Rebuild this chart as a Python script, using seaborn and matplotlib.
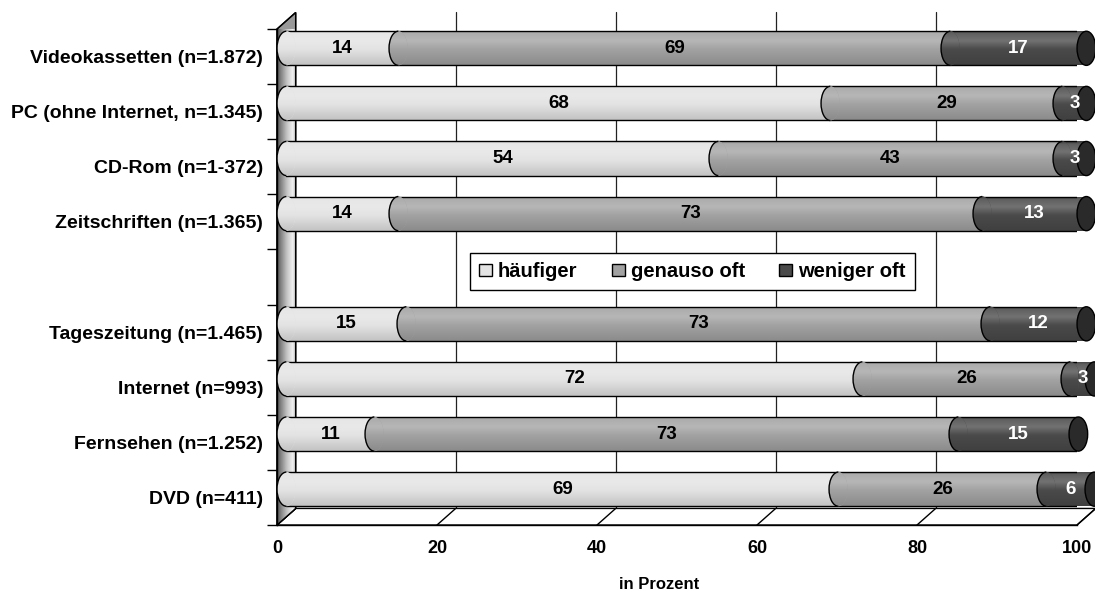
import numpy as np
import pandas as pd
import seaborn as sns
import matplotlib.pyplot as plt
import matplotlib.colors as mcolors
from matplotlib.patches import Ellipse, Polygon, Arc, Patch

# values (percent), top to bottom; "" is the empty row holding the legend
categories = ["Videokassetten (n=1.872)", "PC (ohne Internet, n=1.345)", "CD-Rom (n=1-372)",
              "Zeitschriften (n=1.365)", "", "Tageszeitung (n=1.465)", "Internet (n=993)",
              "Fernsehen (n=1.252)", "DVD (n=411)"]
haeufiger = [14, 68, 54, 14, np.nan, 15, 72, 11, 69]
genauso = [69, 29, 43, 73, np.nan, 73, 26, 73, 26]
weniger = [17, 3, 3, 13, np.nan, 12, 3, 15, 6]
series = ["häufiger", "genauso oft", "weniger oft"]
x_ticks = [0, 20, 40, 60, 80, 100]

colors = {"häufiger": "#e3e3e3", "genauso oft": "#a2a2a2", "weniger oft": "#4a4a4a"}
text_colors = {"häufiger": "black", "genauso oft": "black", "weniger oft": "white"}

DX, DY = 2.33, 0.30   # fake 3D depth (data units)
BAR_H = 0.62


def gradient_rgb(color, n=40):
    # vertical shading so the bars look like cylinders
    rgb = np.array(mcolors.to_rgb(color))
    t = np.linspace(0, 1, n)
    a = np.interp(t, [0, 0.08, 0.3, 0.55, 1], [-0.1, 0.12, 0.22, 0.0, -0.14])[:, None]
    out = np.where(a > 0, rgb + (1 - rgb) * a, rgb * (1 + a))
    return out[:, None, :]


def shade(ax, patch, color, z, x0, x1, y0, y1):
    patch.set_zorder(z)
    im = ax.imshow(gradient_rgb(color), extent=(x0, x1, y1, y0), aspect="auto",
                   interpolation="bilinear", zorder=z + 0.01)
    im.set_clip_box(None)
    im.set_clip_path(patch)


df = pd.DataFrame({"kategorie": categories, "häufiger": haeufiger,
                   "genauso oft": genauso, "weniger oft": weniger}).dropna()
df["bis_genauso"] = df["häufiger"] + df["genauso oft"]
df["bis_weniger"] = df["bis_genauso"] + df["weniger oft"]

sns.set_style("white")
plt.rcParams["font.family"] = ["Liberation Sans", "DejaVu Sans"]
plt.rcParams["font.weight"] = "bold"
plt.rcParams["text.color"] = "black"
plt.rcParams["axes.labelcolor"] = "black"
plt.rcParams["xtick.color"] = "black"
plt.rcParams["ytick.color"] = "black"

fig = plt.figure(figsize=(10.95, 5.92), dpi=100)
ax = fig.add_axes([0.253, 0.1132, 0.7306, 0.8378])

# stacked bars: cumulative sums drawn back to front
layers = [("weniger oft", "bis_weniger", 2), ("genauso oft", "bis_genauso", 3), ("häufiger", "häufiger", 4)]
for name, col, z in layers:
    n0 = len(ax.patches)
    sns.barplot(data=df, x=col, y="kategorie", order=categories, orient="h",
                color=colors[name], saturation=1, width=BAR_H, errorbar=None,
                linewidth=0, ax=ax)
    for p in ax.patches[n0:]:
        p.set_x(p.get_x() + DX / 2)
        p.set_y(p.get_y() - DY / 2)
        shade(ax, p, colors[name], z, p.get_x(), p.get_x() + p.get_width(),
              p.get_y(), p.get_y() + p.get_height())

# cylinder caps, outlines and value labels
rows = df.set_index("kategorie")
for i, cat in enumerate(categories):
    if cat == "":
        continue
    r = rows.loc[cat]
    yc = i - DY / 2
    starts = [0, r["häufiger"], r["bis_genauso"]]
    total = r["bis_weniger"]
    for name, start in zip(series, starts):
        cx = start + DX / 2
        e = Ellipse((cx, yc), DX, BAR_H, facecolor=colors[name], edgecolor="none", clip_on=False)
        ax.add_patch(e)
        shade(ax, e, colors[name], 5, cx - DX / 2, cx + DX / 2, yc - BAR_H / 2, yc + BAR_H / 2)
        ax.add_patch(Arc((cx, yc), DX, BAR_H, theta1=90, theta2=270, color="black",
                         lw=1, zorder=5.2, clip_on=False))
        val = r[name]
        ax.text(start + val / 2 + DX / 2, yc, f"{int(val)}", ha="center", va="center",
                fontsize=13.5, fontweight="bold", color=text_colors[name], zorder=10)
    for yy in (yc - BAR_H / 2, yc + BAR_H / 2):
        ax.plot([DX / 2, total + DX / 2], [yy, yy], color="black", lw=1, zorder=4.8)
    ax.add_patch(Ellipse((total + DX / 2, yc), DX, BAR_H, facecolor="#2a2a2a",
                         edgecolor="black", lw=1, zorder=5.3, clip_on=False))

# side wall
wall = Polygon([(0, 8.5), (0, -0.5), (DX, -0.5 - DY), (DX, 8.5 - DY)], closed=True,
               facecolor="#999999", edgecolor="black", lw=1, zorder=1, clip_on=False)
ax.add_patch(wall)
wall_grad = np.interp(np.linspace(0, 1, 30), [0, 0.5, 0.85, 1], [0.35, 0.75, 0.95, 0.7])
im = ax.imshow(np.repeat(wall_grad[None, :, None], 3, axis=2), extent=(0, DX, 8.5, -0.5 - DY),
               aspect="auto", interpolation="bilinear", zorder=1.01)
im.set_clip_box(None)
im.set_clip_path(wall)
ax.add_patch(Polygon([(0, 8.5), (0, -0.5), (DX, -0.5 - DY), (DX, 8.5 - DY)], closed=True,
                     fill=False, edgecolor="black", lw=1, zorder=1.02, clip_on=False))

# floor and back grid lines
ax.add_patch(Polygon([(0, 8.5), (100, 8.5), (100 + DX, 8.5 - DY), (DX, 8.5 - DY)], closed=True,
                     facecolor="white", edgecolor="black", lw=1, zorder=0.9, clip_on=False))
for t in x_ticks:
    ax.plot([t, t + DX], [8.5, 8.5 - DY], color="black", lw=1, zorder=0.95, clip_on=False)
    if t > 0:
        ax.plot([t + DX, t + DX], [8.5 - DY, -0.5 - DY], color="#222222", lw=0.9,
                zorder=0.8, clip_on=False)

ax.set_xlim(0, 100)
ax.set_ylim(8.5, -0.5)
ax.grid(False)
for s in ("top", "right"):
    ax.spines[s].set_visible(False)
for s in ("left", "bottom"):
    ax.spines[s].set_color("black")
    ax.spines[s].set_linewidth(1)

ax.set_xticks(x_ticks)
ax.set_xticklabels([str(t) for t in x_ticks], fontsize=13, fontweight="bold", color="black")
ax.tick_params(axis="x", length=7, width=1, color="black", labelcolor="black", pad=4)
ax.set_yticks(range(len(categories)))
ax.set_yticklabels(categories, fontsize=14, fontweight="bold", color="black")
ax.set_yticks(np.arange(-0.5, len(categories), 1), minor=True)
ax.tick_params(axis="y", which="major", length=0, pad=10, labelcolor="black")
ax.tick_params(axis="y", which="minor", length=7, width=1, color="black", left=True)

ax.set_ylabel("")
ax.set_xlabel("in Prozent", fontsize=12, fontweight="bold", color="black")
ax.xaxis.set_label_coords(0.4775, -0.105)

handles = [Patch(facecolor=colors[n], edgecolor="black", linewidth=1) for n in series]
leg = ax.legend(handles, series, loc="center", bbox_to_anchor=(0.519, 0.511), ncol=3,
                frameon=True, fancybox=False, edgecolor="black", framealpha=1,
                fontsize=14.5, handlelength=0.65, handleheight=0.6, handletextpad=0.3,
                columnspacing=1.7, borderpad=0.45)
leg.get_frame().set_linewidth(1)
leg.set_zorder(20)
for txt in leg.get_texts():
    txt.set_color("black")

fig.savefig("out.png", dpi=100)
